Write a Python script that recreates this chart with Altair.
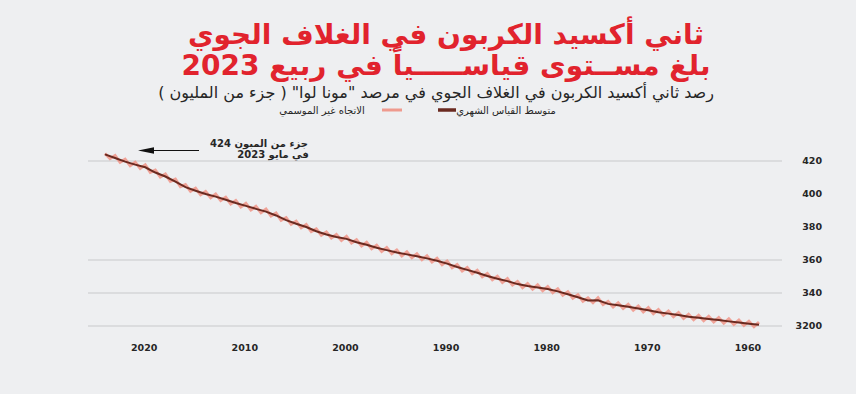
import altair as alt
import pandas as pd

# ---- data -------------------------------------------------------------
years = list(range(1958, 2024))

# de-seasonalised level per year (ppm)
trend = [
    320.8, 321.4, 322.1, 322.8, 323.6, 324.3, 325.0, 325.6, 326.6, 327.5,
    328.4, 329.6, 330.6, 331.6, 332.6, 333.4, 335.6, 335.5, 337.4, 339.2,
    341.0, 342.4, 343.4, 344.2, 345.4, 347.2, 348.6, 350.3, 352.3, 354.0,
    355.8, 357.8, 359.5, 361.0, 362.3, 363.4, 364.6, 366.0, 367.4, 369.2,
    370.8, 372.8, 374.0, 375.5, 377.4, 380.0, 382.0, 384.2, 387.0, 389.3,
    391.0, 392.8, 394.5, 396.5, 398.4, 400.0, 402.0, 404.2, 407.5, 410.6,
    413.0, 416.2, 417.8, 419.6, 421.8, 424.0,
]

# seasonal maximum (spring) per year, 1958-2023
peaks = [
    322.3, 322.9, 323.6, 324.3, 325.1, 325.8, 326.5, 327.1, 328.1, 329.0,
    329.9, 331.1, 332.1, 333.1, 334.1, 334.9, 337.1, 337.0, 338.9, 340.7,
    342.5, 343.9, 344.9, 345.7, 346.9, 348.7, 350.1, 351.8, 353.8, 355.5,
    357.3, 359.3, 361.0, 362.5, 363.8, 364.9, 366.1, 367.5, 368.9, 370.7,
    372.3, 374.3, 375.5, 377.0, 378.9, 381.5, 383.5, 385.7, 388.5, 390.8,
    392.5, 394.3, 396.0, 398.0, 399.9, 401.5, 403.5, 405.7, 409.0, 412.1,
    414.5, 417.7, 419.3, 421.1, 423.3, 424.6,
]

# seasonal minimum (autumn) per year, 1958-2022
troughs = [
    319.6, 320.3, 321.0, 321.7, 322.5, 323.2, 323.8, 324.6, 325.6, 326.5,
    327.5, 328.6, 329.6, 330.6, 331.5, 333.0, 334.1, 335.0, 336.8, 338.6,
    340.2, 341.4, 342.3, 343.3, 344.8, 346.4, 348.0, 349.8, 351.7, 353.4,
    355.3, 357.2, 358.8, 360.2, 361.4, 362.5, 363.8, 365.2, 366.8, 368.5,
    370.3, 371.9, 373.3, 375.0, 377.2, 379.5, 381.6, 384.1, 386.7, 388.7,
    390.4, 392.2, 394.0, 396.0, 397.7, 399.5, 401.6, 404.4, 407.6, 410.3,
    413.1, 415.5, 417.2, 419.2, 421.4,
]

x_ticks = [2020, 2010, 2000, 1990, 1980, 1970, 1960]
x_tick_labels = ["2020", "2010", "2000", "1990", "1980", "1970", "1960"]
y_ticks = [420, 400, 380, 360, 340, 320]
y_tick_labels = ["420", "400", "380", "360", "340", "3200"]
grid_values = [420, 360, 340, 320]

title_1 = "ثاني أكسيد الكربون في الغلاف الجوي"
title_2 = "بلغ مســتوى قياســـــياً في ربيع 2023"
subtitle = 'رصد ثاني أكسيد الكربون في الغلاف الجوي في مرصد "مونا لوا" ( جزء من المليون )'
legend_dark = "متوسط القياس الشهري"
legend_pink = "الاتجاه غير الموسمي"
note_1 = "424 جزء من المبون"
note_2 = "في مايو 2023"

# ---- tables -----------------------------------------------------------
dark_df = pd.DataFrame({"t": [y + 0.4 for y in years], "v": trend})

pink_rows = []
for i, y in enumerate(years):
    pink_rows.append({"t": y + 0.4, "v": peaks[i]})
    if i < len(troughs):
        pink_rows.append({"t": y + 0.9, "v": troughs[i]})
pink_df = pd.DataFrame(pink_rows)

xt_df = pd.DataFrame({"year": x_ticks, "label": x_tick_labels})
yt_df = pd.DataFrame({"v": y_ticks, "label": y_tick_labels})
grid_df = pd.DataFrame({"v": grid_values})

# ---- styling ----------------------------------------------------------
RED = "#e1232d"
DARK = "#6a2a20"
PINK = "#ef9a8e"
INK = "#262626"
FONT = "DejaVu Sans"

X = alt.Scale(domain=[1958.4, 2023.4], range=[759, 105], nice=False, zero=False)
Y = alt.Scale(domain=[320, 420], range=[326, 161], nice=False, zero=False)


def label(text, x, y, size, color=INK, weight="normal", align="center", rtl=True):
    props = dict(font=FONT, fontSize=size, fontWeight=weight, color=color,
                 align=align, baseline="middle")
    if rtl:
        props["dir"] = "rtl"
    return alt.Chart(pd.DataFrame({"s": [text]})).mark_text(**props).encode(
        x=alt.value(x), y=alt.value(y), text="s:N"
    )


grid = alt.Chart(grid_df).mark_rule(color="#c8c9cb", strokeWidth=1).encode(
    y=alt.Y("v:Q", scale=Y, axis=None), x=alt.value(88), x2=alt.value(782)
)

pink_line = alt.Chart(pink_df).mark_line(
    color=PINK, strokeWidth=3, opacity=0.9
).encode(
    x=alt.X("t:Q", scale=X, axis=None),
    y=alt.Y("v:Q", scale=Y, axis=None),
    order="t:Q",
)

dark_line = alt.Chart(dark_df).mark_line(color=DARK, strokeWidth=2).encode(
    x=alt.X("t:Q", scale=X, axis=None),
    y=alt.Y("v:Q", scale=Y, axis=None),
    order="t:Q",
)

x_labels = alt.Chart(xt_df).mark_text(
    font=FONT, fontSize=9.5, fontWeight="bold", color=INK, dx=5, baseline="middle"
).encode(
    x=alt.X("year:Q", scale=X, axis=None), y=alt.value(348), text="label:N"
)

y_labels = alt.Chart(yt_df).mark_text(
    font=FONT, fontSize=9.5, fontWeight="bold", color=INK, align="right",
    baseline="middle",
).encode(
    x=alt.value(822), y=alt.Y("v:Q", scale=Y, axis=None), text="label:N"
)

# legend swatches
sw_pink = alt.Chart(pd.DataFrame({"a": [0]})).mark_rule(
    color=PINK, strokeWidth=3
).encode(x=alt.value(382), x2=alt.value(402), y=alt.value(110))
sw_dark = alt.Chart(pd.DataFrame({"a": [0]})).mark_rule(
    color=DARK, strokeWidth=3.5
).encode(x=alt.value(438), x2=alt.value(456), y=alt.value(110))

# annotation arrow
arrow_shaft = alt.Chart(pd.DataFrame({"a": [0]})).mark_rule(
    color="#111111", strokeWidth=1.2
).encode(x=alt.value(150), x2=alt.value(199), y=alt.value(150.5))
arrow_head = alt.Chart(pd.DataFrame({"a": [0]})).mark_point(
    shape="M -1 0 L 1 -0.42 L 1 0.42 Z", filled=True, color="#111111",
    size=256, opacity=1,
).encode(x=alt.value(146), y=alt.value(150.5))

layers = [
    grid,
    pink_line,
    dark_line,
    x_labels,
    y_labels,
    label(title_1, 446, 36, 28, RED, "bold"),
    label(title_2, 446, 67, 28, RED, "bold"),
    label(subtitle, 436, 93, 16),
    label(legend_pink, 322, 111, 10),
    label(legend_dark, 506, 111, 10),
    sw_pink,
    sw_dark,
    arrow_shaft,
    arrow_head,
    label(note_1, 259, 144, 10, weight="bold"),
    label(note_2, 273, 155, 10, weight="bold"),
]

chart = alt.layer(*layers).properties(
    width=856,
    height=394,
    padding=0,
    autosize=alt.AutoSizeParams(type="none"),
    background="#eeeff1",
).configure_view(stroke=None)

chart.save("out.html", embed_options={"renderer": "svg", "actions": False})
